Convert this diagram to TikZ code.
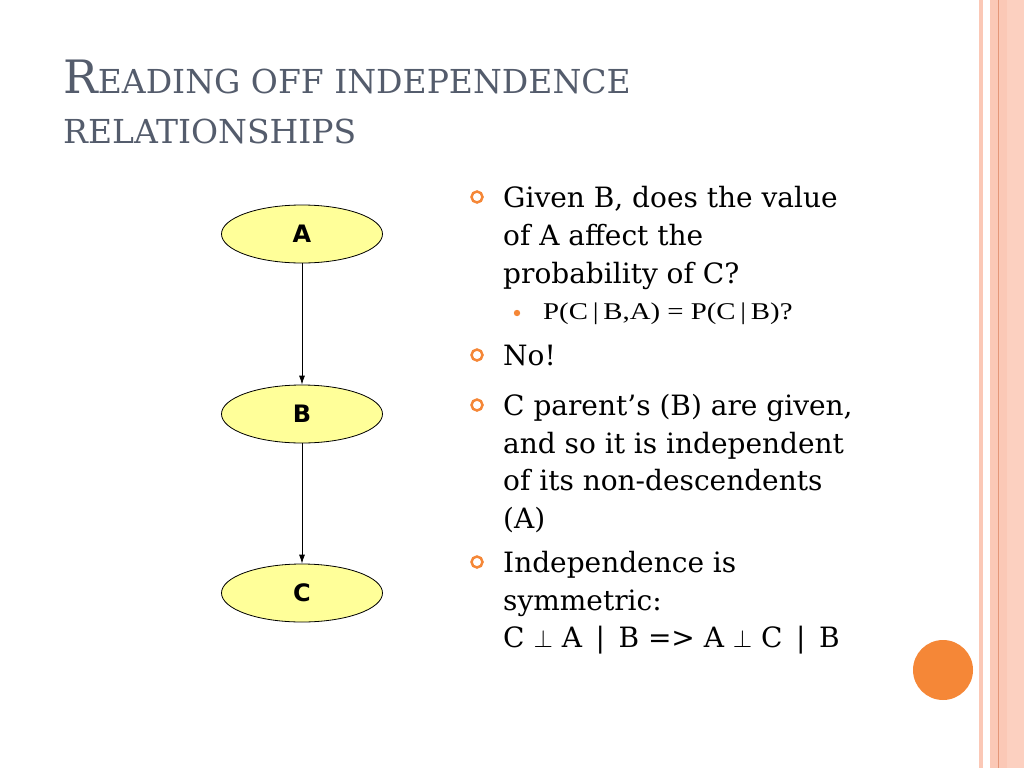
\documentclass[tikz,border=0pt]{standalone}
\usepackage{fontspec}
\setmainfont{DejaVu Serif}
\newfontfamily\varfont{DejaVu Sans}
\newfontfamily\subfont{Liberation Serif}
\usetikzlibrary{shapes.geometric,arrows.meta}
\tikzset{>={Latex[length=9pt,width=6pt]}}
\definecolor{ttl}{RGB}{84,92,108}
\definecolor{org}{RGB}{245,135,55}
\definecolor{slm}{RGB}{251,200,182}
\definecolor{slml}{RGB}{252,208,192}
\definecolor{slmd}{RGB}{228,150,120}
\definecolor{yel}{RGB}{255,255,153}

\begin{document}
\begin{tikzpicture}[x=1pt, y=-1pt,
    var/.style={ellipse, draw, line width=.8pt, fill=yel, minimum width=161pt, minimum height=58pt, inner sep=0pt, font=\varfont\bfseries\fontsize{24}{24}\selectfont},
    txt/.style={anchor=base west, inner sep=0pt, font=\fontsize{28}{34}\selectfont},
    ttxt/.style={anchor=base west, inner sep=0pt, text=ttl, font=\fontsize{33}{40}\selectfont},
    ring/.style={draw=org, line width=2.5pt}]
    \useasboundingbox(0, 0)rectangle(1024, 768);
    % stripes at the right edge
    \fill[slm](979, 0)rectangle(983, 768);
    \fill[slm](990, 0)rectangle(1007, 768);
    \fill[slml](1007, 0)rectangle(1024, 768);
    \draw[slmd, line width=1pt](998.5, 0)--(998.5, 768);
    \fill[org](943, 670)circle(30);
    % title
    \node[ttxt](t1) at(63, 93){{\fontsize{46}{46}\selectfont R}EADING OFF INDEPENDENCE};
    \node[ttxt](t2) at(63, 143){RELATIONSHIPS};
    % network
    \node[var](a) at(302, 234){A};
    \node[var](b) at(302, 414){B};
    \node[var](c) at(302, 593){C};
    \draw[->, line width=.8pt](a)--(b);
    \draw[->, line width=.8pt](b)--(c);
    % bullets
    \draw[ring](477, 197)circle(5.5);
    \node[txt](g1) at(503, 207){Given B, does the value};
    \node[txt](g2) at(503, 245){of A affect the};
    \node[txt](g3) at(503, 283){probability of C?};
    \fill[org](517, 313)circle(3.2);
    \node[txt, font=\subfont\fontsize{24}{28}\selectfont](p1) at(543, 319){\scalebox{1.2}[1]{P(C\,|\,B,A) = P(C\,|\,B)?}};
    \draw[ring](477, 355)circle(5.5);
    \node[txt](n1) at(503, 365){No!};
    \draw[ring](477, 405)circle(5.5);
    \node[txt](c1) at(503, 415){C parent’s (B) are given,};
    \node[txt](c2) at(503, 453){and so it is independent};
    \node[txt](c3) at(503, 490){of its non-descendents};
    \node[txt](c4) at(503, 528){(A)};
    \draw[ring](477, 562)circle(5.5);
    \node[txt](i1) at(503, 572){Independence is};
    \node[txt](i2) at(503, 610){symmetric:};
    \node[txt](i3) at(503, 647){C $\perp$ A \,|\, B => A $\perp$ C \,|\, B};
\end{tikzpicture}
\end{document}
